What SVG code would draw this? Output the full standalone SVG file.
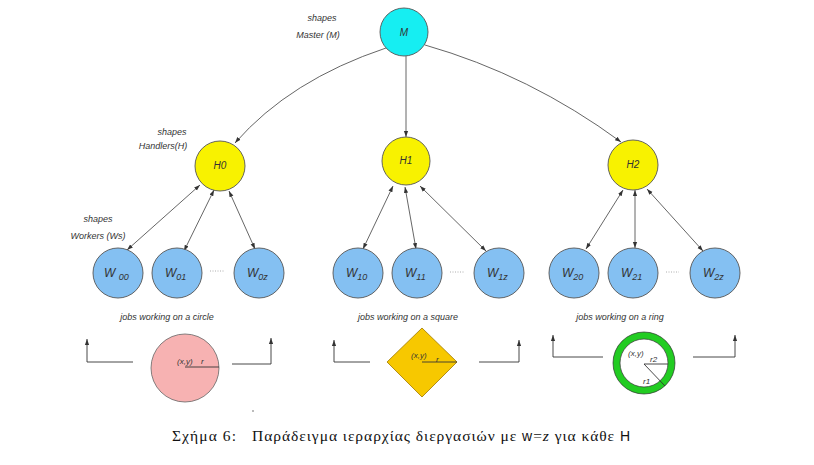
<svg xmlns="http://www.w3.org/2000/svg" width="814" height="465" viewBox="0 0 814 465">
<style>
.lbl{font-family:"Liberation Sans",Arial,sans-serif;font-style:italic;font-size:9px;fill:#333}
.nl{font-family:"Liberation Sans",Arial,sans-serif;font-style:italic;font-size:10px;fill:#333;text-anchor:middle}
.wl{font-family:"Liberation Sans",Arial,sans-serif;font-style:italic;font-size:12px;fill:#333}
.sub{font-size:9px}
.sm{font-family:"Liberation Sans",Arial,sans-serif;font-style:italic;font-size:8px;fill:#333}
.edge{fill:none;stroke:#555;stroke-width:0.9}
.bi{marker-start:url(#ah);marker-end:url(#ah)}
.one{marker-end:url(#ah)}
.master{fill:#16eef2;stroke:#555;stroke-width:0.9}
.handler{fill:#f8f200;stroke:#555;stroke-width:0.9}
.worker{fill:#84c0f2;stroke:#555;stroke-width:0.9}
.dots{stroke:#999;stroke-width:0.8;stroke-dasharray:1 1.5}
.brk{fill:none;stroke:#333;stroke-width:0.9;marker-end:url(#ah)}
.cap{font-family:"Liberation Serif","Times New Roman",serif;font-size:15.5px;fill:#111}
.caps{font-family:"Liberation Sans",Arial,sans-serif;font-size:14px}
</style>
<defs>
<marker id="ah" viewBox="0 0 10 10" refX="10" refY="5" markerWidth="6" markerHeight="6" markerUnits="userSpaceOnUse" orient="auto-start-reverse">
<path d="M0,1.5 L10,5 L0,8.5 z" fill="#333"/>
</marker>
</defs>
<rect width="814" height="465" fill="#fff"/>

<g id="connectors">
<path class="edge one" d="M386,48 Q290,80 235,143"/>
<path class="edge one" d="M406,56 L406,137"/>
<path class="edge one" d="M425,45 Q530,75 621,142"/>
<path class="edge bi" d="M200,185 L127,250"/>
<path class="edge bi" d="M214,190 L184,251"/>
<path class="edge bi" d="M229,191 L255,249"/>
<path class="edge bi" d="M393,186 L363,249"/>
<path class="edge bi" d="M405,187 L416,249"/>
<path class="edge bi" d="M420,186 L486,251"/>
<path class="edge bi" d="M623,190 L586,249"/>
<path class="edge bi" d="M635,190 L635,248"/>
<path class="edge bi" d="M647,189 L703,251"/>
</g>

<g id="labels">
<text class="lbl" x="322" y="21" text-anchor="middle">shapes</text>
<text class="lbl" x="318" y="38" text-anchor="middle">Master (M)</text>
<text class="lbl" x="172" y="135" text-anchor="middle">shapes</text>
<text class="lbl" x="163" y="149" text-anchor="middle">Handlers(H)</text>
<text class="lbl" x="98" y="222" text-anchor="middle">shapes</text>
<text class="lbl" x="98" y="239" text-anchor="middle">Workers (Ws)</text>
</g>

<g id="M"><circle class="master" cx="404" cy="32" r="24"/><text class="nl" x="404" y="36">M</text></g>
<g id="H0"><circle class="handler" cx="220" cy="166" r="25"/><text class="nl" x="220" y="169">H0</text></g>
<g id="H1"><circle class="handler" cx="406" cy="161" r="24"/><text class="nl" x="406" y="164">H1</text></g>
<g id="H2"><circle class="handler" cx="633" cy="165" r="25"/><text class="nl" x="633" y="168">H2</text></g>

<g id="W00"><circle class="worker" cx="118" cy="273" r="25"/><text class="wl" x="104" y="277">W <tspan class="sub" dy="3">00</tspan></text></g>
<g id="W01"><circle class="worker" cx="177" cy="273" r="25"/><text class="wl" x="165" y="277">W<tspan class="sub" dy="3">01</tspan></text></g>
<g id="W0z"><circle class="worker" cx="259" cy="273" r="25"/><text class="wl" x="247" y="277">W<tspan class="sub" dy="3">0z</tspan></text></g>
<g id="W10"><circle class="worker" cx="358" cy="273" r="25"/><text class="wl" x="346" y="277">W<tspan class="sub" dy="3">10</tspan></text></g>
<g id="W11"><circle class="worker" cx="417" cy="273" r="25"/><text class="wl" x="405" y="277">W<tspan class="sub" dy="3">11</tspan></text></g>
<g id="W1z"><circle class="worker" cx="499" cy="273" r="25"/><text class="wl" x="487" y="277">W<tspan class="sub" dy="3">1z</tspan></text></g>
<g id="W20"><circle class="worker" cx="574" cy="273" r="25"/><text class="wl" x="562" y="277">W<tspan class="sub" dy="3">20</tspan></text></g>
<g id="W21"><circle class="worker" cx="633" cy="273" r="25"/><text class="wl" x="621" y="277">W<tspan class="sub" dy="3">21</tspan></text></g>
<g id="W2z"><circle class="worker" cx="715" cy="273" r="25"/><text class="wl" x="703" y="277">W<tspan class="sub" dy="3">2z</tspan></text></g>

<g id="ellipses">
<line class="dots" x1="210" y1="271" x2="225" y2="271"/>
<line class="dots" x1="450" y1="272" x2="464" y2="272"/>
<line class="dots" x1="666" y1="272" x2="679" y2="272"/>
</g>

<g id="job-circle">
<text class="lbl" x="167" y="320" text-anchor="middle">jobs working on a circle</text>
<path class="brk" d="M133,362 H87 V339"/>
<path class="brk" d="M232,364 H271 V338"/>
<circle cx="185" cy="368" r="34" fill="#f7b2b2" stroke="#666" stroke-width="0.8"/>
<line x1="185" y1="367" x2="219" y2="367" stroke="#333" stroke-width="0.9"/>
<text class="sm" x="177" y="364">(x,y)</text>
<text class="sm" x="201" y="364">r</text>
</g>

<g id="job-square">
<text class="lbl" x="408" y="320" text-anchor="middle">jobs working on a square</text>
<path class="brk" d="M370,362 H334 V340"/>
<path class="brk" d="M479,362 H519 V340"/>
<polygon points="422,328 457,362 422,397 387,362" fill="#f7c800" stroke="#a07800" stroke-width="0.8"/>
<line x1="422" y1="362" x2="457" y2="362" stroke="#333" stroke-width="0.9"/>
<text class="sm" x="411" y="358">(x,y)</text>
<text class="sm" x="436" y="362">r</text>
</g>

<g id="job-ring">
<text class="lbl" x="620" y="320" text-anchor="middle">jobs working on a ring</text>
<path class="brk" d="M603,357 H553 V335"/>
<path class="brk" d="M693,357 H735 V335"/>
<circle cx="644" cy="363" r="27.5" fill="#fff" stroke="#22cc22" stroke-width="7"/>
<circle cx="644" cy="363" r="31" fill="none" stroke="#333" stroke-width="0.7"/>
<circle cx="644" cy="363" r="24" fill="none" stroke="#333" stroke-width="0.7"/>
<line x1="644" y1="364" x2="668" y2="364" stroke="#333" stroke-width="0.9"/>
<line x1="644" y1="364" x2="665" y2="386" stroke="#333" stroke-width="0.9"/>
<text class="sm" x="628" y="356">(x,y)</text>
<text class="sm" x="650" y="362">r2</text>
<text class="sm" x="643" y="384">r1</text>
</g>

<circle cx="253" cy="411" r="0.7" fill="#444"/>

<g id="caption">
<text class="cap" x="172" y="441" textLength="64" lengthAdjust="spacing">Σχήμα 6:</text>
<text class="cap" x="252" y="441" textLength="378" lengthAdjust="spacing">Παράδειγμα ιεραρχίας διεργασιών με <tspan class="caps">w</tspan>=<tspan font-style="italic">z</tspan> για κάθε <tspan class="caps">H</tspan></text>
</g>
</svg>
